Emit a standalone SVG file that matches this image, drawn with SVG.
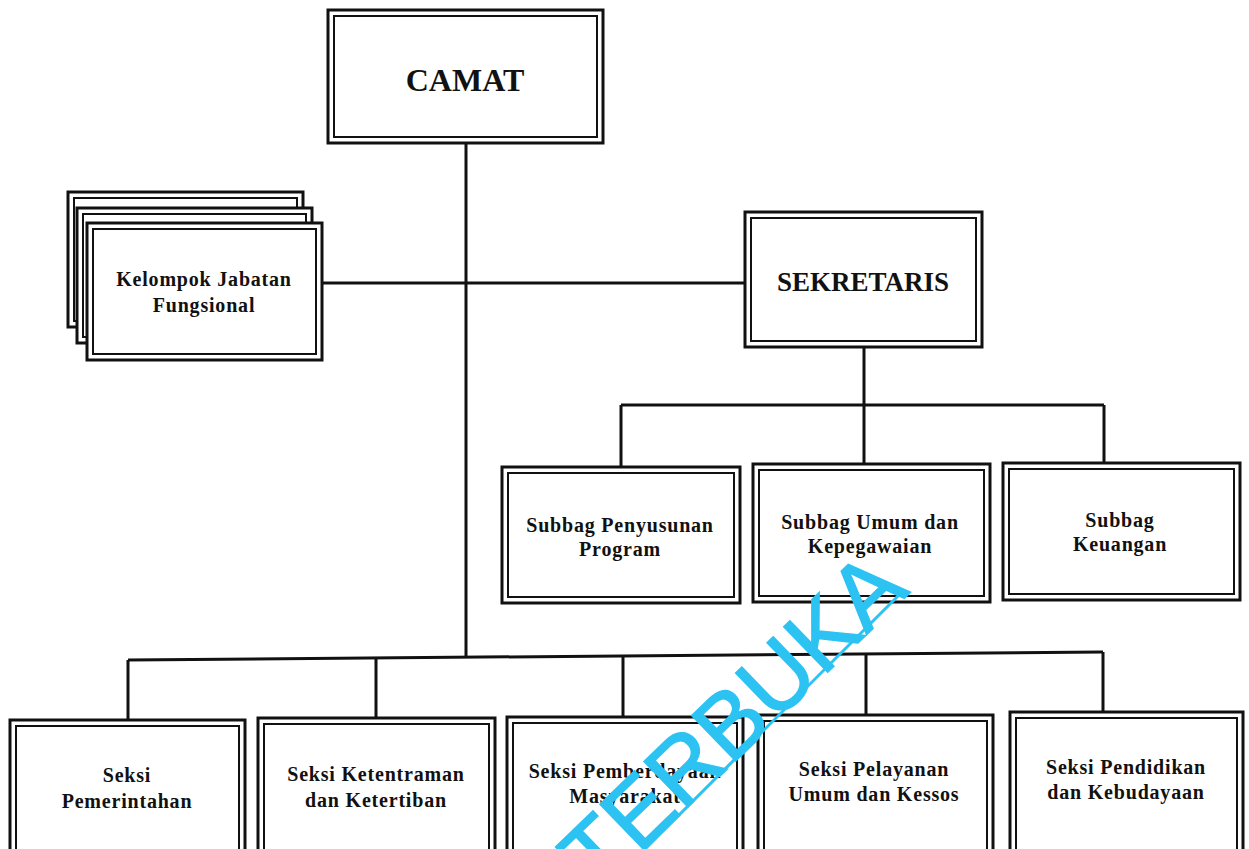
<svg xmlns="http://www.w3.org/2000/svg" width="1249" height="849" viewBox="0 0 1249 849">
<style>
.o{fill:#fff;stroke:#111;stroke-width:3}
.i{fill:none;stroke:#111;stroke-width:2}
.c{fill:none;stroke:#111;stroke-width:3}
.t{font-family:"Liberation Serif","Times New Roman",serif;font-weight:bold;font-size:20px;text-anchor:middle;fill:#111;letter-spacing:0.8px}
.big{font-size:32px;letter-spacing:0}
.mid{font-size:27px;letter-spacing:0}
.wm{font-family:"Liberation Sans",Arial,sans-serif;font-size:92px;fill:#2cc3f3;stroke:#2cc3f3;stroke-width:1.5}
</style>
<rect width="1249" height="849" fill="#fff"/>
<g id="connectors">
<path class="c" d="M466,143 V658"/>
<path class="c" d="M322,283 H747"/>
<path class="c" d="M864,347 V405"/>
<path class="c" d="M621,405 H1104"/>
<path class="c" d="M621,405 V467 M864,405 V464 M1104,405 V463"/>
<path class="c" d="M128,660 L1103,652"/>
<path class="c" d="M128,660 V720 M376,658 V718 M623,656 V717 M866,654 V715 M1103,652 V712"/>
</g>
<g id="camat">
<rect class="o" x="328" y="10" width="275" height="133"/>
<rect class="i" x="334" y="16" width="263" height="121"/>
<text class="t big" x="465" y="91">CAMAT</text>
</g>
<g id="kelompok">
<rect class="o" x="68" y="192" width="235" height="135"/>
<rect class="i" x="74" y="198" width="223" height="123"/>
<rect class="o" x="77" y="208" width="235" height="135"/>
<rect class="i" x="83" y="214" width="223" height="123"/>
<rect class="o" x="87" y="223" width="235" height="137"/>
<rect class="i" x="93" y="229" width="223" height="125"/>
<text class="t" x="204" y="286">Kelompok Jabatan</text>
<text class="t" x="204" y="312">Fungsional</text>
</g>
<g id="sekretaris">
<rect class="o" x="745" y="212" width="237" height="135"/>
<rect class="i" x="751" y="218" width="225" height="123"/>
<text class="t mid" x="863" y="291">SEKRETARIS</text>
</g>
<g id="subbag-program">
<rect class="o" x="502" y="467" width="238" height="136"/>
<rect class="i" x="508" y="473" width="226" height="124"/>
<text class="t" x="620" y="532">Subbag Penyusunan</text>
<text class="t" x="620" y="556">Program</text>
</g>
<g id="subbag-umum">
<rect class="o" x="753" y="464" width="237" height="138"/>
<rect class="i" x="759" y="470" width="225" height="126"/>
<text class="t" x="870" y="529">Subbag Umum dan</text>
<text class="t" x="870" y="553">Kepegawaian</text>
</g>
<g id="subbag-keuangan">
<rect class="o" x="1003" y="463" width="237" height="137"/>
<rect class="i" x="1009" y="469" width="225" height="125"/>
<text class="t" x="1120" y="527">Subbag</text>
<text class="t" x="1120" y="551">Keuangan</text>
</g>
<g id="seksi-pemerintahan">
<rect class="o" x="10" y="720" width="235" height="150"/>
<rect class="i" x="16" y="726" width="223" height="140"/>
<text class="t" x="127" y="782">Seksi</text>
<text class="t" x="127" y="808">Pemerintahan</text>
</g>
<g id="seksi-ketentraman">
<rect class="o" x="258" y="718" width="237" height="150"/>
<rect class="i" x="264" y="724" width="225" height="140"/>
<text class="t" x="376" y="781">Seksi Ketentraman</text>
<text class="t" x="376" y="807">dan Ketertiban</text>
</g>
<g id="seksi-pemberdayaan">
<rect class="o" x="507" y="717" width="236" height="150"/>
<rect class="i" x="513" y="723" width="224" height="140"/>
<text class="t" x="625" y="778">Seksi Pemberdayaan</text>
<text class="t" x="625" y="803">Masyarakat</text>
</g>
<g id="seksi-pelayanan">
<rect class="o" x="758" y="715" width="235" height="150"/>
<rect class="i" x="764" y="721" width="223" height="140"/>
<text class="t" x="874" y="776">Seksi Pelayanan</text>
<text class="t" x="874" y="801">Umum dan Kessos</text>
</g>
<g id="seksi-pendidikan">
<rect class="o" x="1010" y="712" width="233" height="150"/>
<rect class="i" x="1016" y="718" width="221" height="140"/>
<text class="t" x="1126" y="774">Seksi Pendidikan</text>
<text class="t" x="1126" y="799">dan Kebudayaan</text>
</g>
<g id="watermark">
<text class="wm" transform="translate(598,894) rotate(-44)">TERBUKA</text>
<line x1="600" y1="894" x2="903" y2="591" stroke="#2cc3f3" stroke-width="3"/>
</g>
</svg>
